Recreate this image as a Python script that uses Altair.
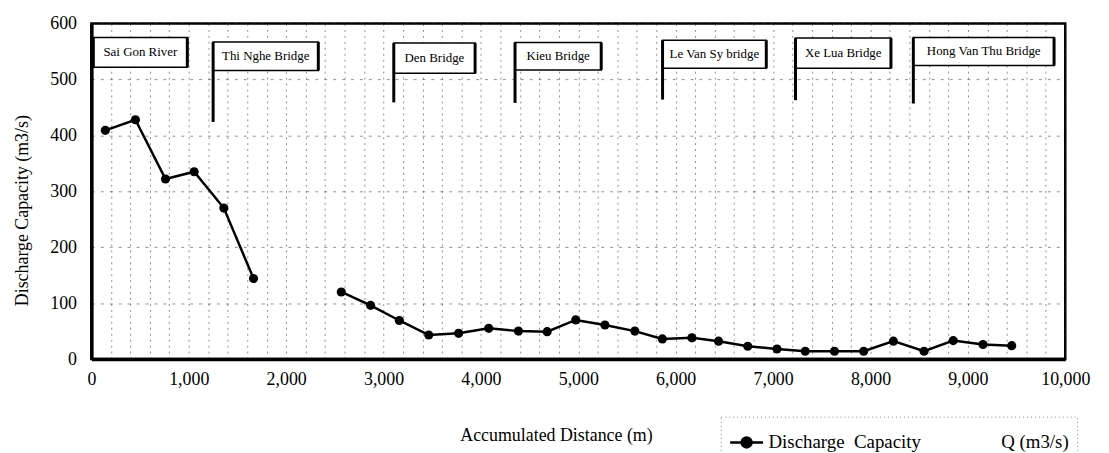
import altair as alt
import pandas as pd

# ---- data ----
distance = [143, 452, 761, 1055, 1360, 1665,
            2566, 2867, 3162, 3464, 3771, 4080, 4385, 4680, 4973, 5273, 5580, 5863,
            6166, 6440, 6740, 7040, 7330, 7630, 7930, 8235, 8550, 8850, 9155, 9450]
capacity = [409, 428, 322, 335, 270, 144,
            120, 96, 69, 43, 46, 55, 50, 49, 70, 61, 50, 36,
            38, 32, 23, 18, 14, 14, 14, 32, 14, 33, 26, 24]
segment = [1] * 6 + [2] * 24

box_labels = ["Sai Gon River", "Thi Nghe Bridge", "Den Bridge", "Kieu Bridge",
              "Le Van Sy bridge", "Xe Lua Bridge", "Hong Van Thu Bridge"]
box_left = [20, 1250, 3105, 4350, 5865, 7230, 8440]
box_right = [985, 2330, 3940, 5235, 6930, 8210, 9885]
box_top = [575, 567, 565, 566, 570, 574, 575]
box_bottom = [522, 516, 511, 517, 520, 520, 525]
leader_end = [522, 424, 459, 458, 464, 463, 457]

x_grid = list(range(0, 10001, 200))
y_ticks = list(range(0, 601, 100))

legend_label = ("Discharge\u00a0\u00a0Capacity" + "\u00a0" * 17 + "Q (m3/s)")

FONT = "Liberation Serif"

df = pd.DataFrame({"distance": distance, "capacity": capacity,
                   "segment": segment, "series": [legend_label] * len(distance)})
boxes = pd.DataFrame({"label": box_labels, "x1": box_left, "x2": box_right,
                      "ytop": box_top, "ybot": box_bottom, "yend": leader_end})

xscale = alt.Scale(domain=[0, 10000], nice=False, zero=False)
yscale = alt.Scale(domain=[0, 600], nice=False)

x_axis = alt.Axis(
    values=x_grid, tickCount=100,
    labelExpr="datum.value % 1000 == 0 ? format(datum.value, ',') : ''",
    labelOverlap=False, labelFlush=False, grid=True, ticks=False, labelPadding=12,
    title="Accumulated Distance (m)", titleX=468, titleY=68, titleBaseline="top",
    gridDash=[2, 4],
)
y_axis = alt.Axis(
    values=y_ticks, tickCount=20, grid=True, ticks=False, labelPadding=15,
    title="Discharge Capacity (m3/s)", titleX=-60, titleY=188, gridDash=[3, 6],
)

line = alt.Chart(df).mark_line(strokeWidth=2.5).encode(
    x=alt.X("distance:Q", scale=xscale, axis=x_axis),
    y=alt.Y("capacity:Q", scale=yscale, axis=y_axis),
    detail="segment:N",
    color=alt.Color("series:N", scale=alt.Scale(range=["black"]),
                    legend=alt.Legend(
                        title=None, orient="none", legendX=634, legendY=396,
                        symbolType="M-1,0H1M-0.3,0A0.3,0.3 0 1,0 0.3,0A0.3,0.3 0 1,0 -0.3,0",
                        symbolSize=1100, symbolStrokeWidth=2.5,
                        symbolFillColor="black", symbolStrokeColor="black",
                        labelFont=FONT, labelFontSize=19, labelLimit=600,
                        labelColor="black", padding=8, labelOffset=4)),
)
points = alt.Chart(df).mark_circle(size=85, opacity=1, color="black").encode(
    x="distance:Q", y="capacity:Q")

leaders = alt.Chart(boxes).mark_rule(strokeWidth=3, color="black").encode(
    x="x1:Q", y="ytop:Q", y2="yend:Q")
rects = alt.Chart(boxes).mark_rect(fill="white", stroke="black", strokeWidth=1.5).encode(
    x="x1:Q", x2="x2:Q", y="ytop:Q", y2="ybot:Q")
right_edges = alt.Chart(boxes).mark_rule(strokeWidth=3, color="black").encode(
    x="x2:Q", y="ytop:Q", y2="ybot:Q")
texts = alt.Chart(boxes).mark_text(font=FONT, fontSize=13, color="black").transform_calculate(
    xm="(datum.x1 + datum.x2) / 2", ym="(datum.ytop + datum.ybot) / 2"
).encode(x="xm:Q", y="ym:Q", text="label:N")

chart = alt.layer(line, points, rects, leaders, right_edges, texts).properties(
    width=981, height=338,
    autosize=alt.AutoSizeParams(type="none"),
    padding={"left": 84, "top": 14, "right": 36, "bottom": 95},
).configure_view(
    stroke="black", strokeWidth=2.5
).configure_axis(
    labelFont=FONT, titleFont=FONT, labelFontSize=18, titleFontSize=18,
    titleFontWeight="normal", labelColor="black", titleColor="black",
    domainColor="black", domainWidth=3.5, gridColor="#333", gridOpacity=0.55,
    gridWidth=1,
).configure_legend(
    strokeColor="#888", strokeDash=[1, 3]
)

chart.save("out.html", embed_options={"renderer": "svg", "actions": False})
